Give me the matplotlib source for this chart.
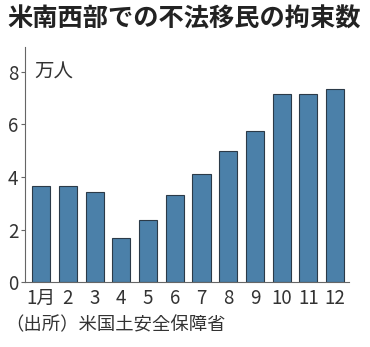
import matplotlib.pyplot as plt

plt.rcParams['font.family'] = ['Noto Sans CJK JP', 'DejaVu Sans']

# Monthly apprehensions (10k people)
months = ['1月', '2', '3', '4', '5', '6', '7', '8', '9', '10', '11', '12']
counts = [3.66, 3.67, 3.44, 1.69, 2.35, 3.31, 4.10, 5.00, 5.76, 7.16, 7.14, 7.35]
yticks = [0, 2, 4, 6, 8]

fig = plt.figure(figsize=(3.7, 3.47), dpi=100)
ax = fig.add_axes([0.068, 0.187, 0.875, 0.678])

ax.bar(range(len(months)), counts, width=0.68, color='#4b80a9',
       edgecolor='#2b3a48', linewidth=0.8)

ax.set_xlim(-0.6, 11.52)
ax.set_ylim(0, 8.95)
ax.set_yticks(yticks)
ax.set_yticklabels([str(t) for t in yticks], fontsize=13.5, color='#333333')
ax.set_xticks(range(len(months)))
ax.set_xticklabels(months, fontsize=13.5, color='#333333')
ax.tick_params(axis='x', length=0, pad=4)
ax.tick_params(axis='y', length=3, width=0.8, color='#666666', pad=2)

for side in ['top', 'right']:
    ax.spines[side].set_visible(False)
ax.spines['left'].set_color('#666666')
ax.spines['bottom'].set_color('#666666')
ax.spines['left'].set_linewidth(0.8)
ax.spines['bottom'].set_linewidth(0.8)

ax.text(-0.27, 8.0, '万人', fontsize=14, color='#333333', va='center', ha='left')

fig.text(0.02, 0.945, '米南西部での不法移民の拘束数', fontsize=18.2,
         fontweight='bold', color='#222222', va='center', ha='left')
fig.text(0.015, 0.063, '（出所）米国土安全保障省', fontsize=13.2,
         color='#333333', va='center', ha='left')

fig.savefig('out.png', dpi=100)
